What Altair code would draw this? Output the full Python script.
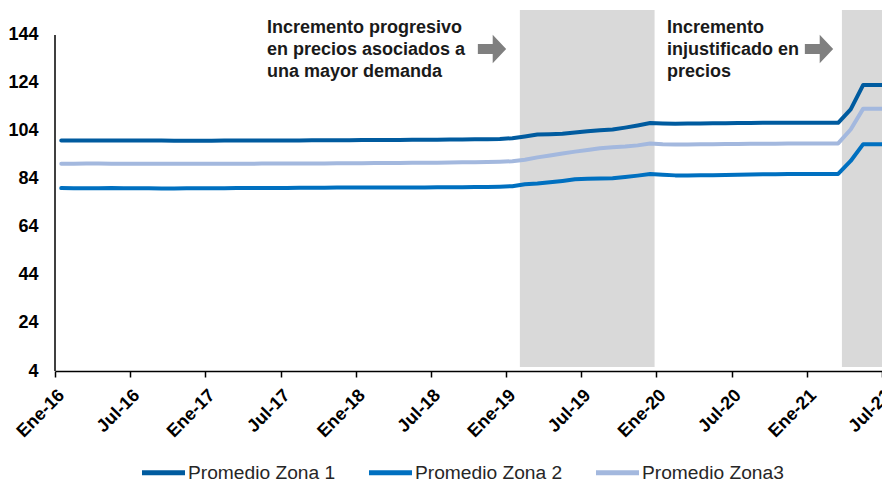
import altair as alt
import pandas as pd

# ---- data ----
SERIES = ["Promedio Zona 1", "Promedio Zona 2", "Promedio Zona3"]
COLORS = ["#005B9F", "#0070C0", "#A3B8DE"]

# monthly index: 0 = Ene-16 ... 66 = Jul-21
MESES = list(range(67))

ZONA1 = [100.0, 100.0, 100.0, 100.0, 100.0, 100.0, 100.0, 100.0, 100.0, 99.9, 99.9, 99.9,
         99.9, 100.0, 100.0, 100.0, 100.0, 100.0, 100.0, 100.0, 100.1, 100.1, 100.1, 100.1,
         100.2, 100.2, 100.2, 100.2, 100.3, 100.3, 100.3, 100.4, 100.4, 100.5, 100.6, 100.7,
         101.0, 101.7, 102.5, 102.6, 102.8, 103.4, 103.9, 104.3, 104.6, 105.4, 106.3, 107.3,
         107.1, 107.0, 107.1, 107.1, 107.2, 107.2, 107.3, 107.3, 107.4, 107.4, 107.4, 107.4,
         107.4, 107.4, 107.4, 113.0, 123.2, 123.2, 123.2]
ZONA2 = [80.2, 80.1, 80.1, 80.1, 80.2, 80.1, 80.1, 80.1, 80.0, 80.0, 80.1, 80.1,
         80.1, 80.1, 80.2, 80.2, 80.2, 80.2, 80.2, 80.3, 80.3, 80.3, 80.4, 80.4,
         80.4, 80.4, 80.5, 80.5, 80.5, 80.5, 80.6, 80.6, 80.6, 80.7, 80.7, 80.8,
         81.0, 81.8, 82.1, 82.6, 83.2, 83.9, 84.1, 84.2, 84.3, 84.8, 85.4, 86.1,
         85.8, 85.5, 85.5, 85.6, 85.6, 85.7, 85.8, 85.9, 86.0, 86.0, 86.1, 86.1,
         86.1, 86.1, 86.1, 91.5, 98.5, 98.5, 98.5]
ZONA3 = [90.3, 90.3, 90.4, 90.4, 90.3, 90.3, 90.3, 90.3, 90.3, 90.3, 90.3, 90.3,
         90.3, 90.3, 90.3, 90.3, 90.4, 90.4, 90.4, 90.5, 90.5, 90.5, 90.6, 90.6,
         90.6, 90.7, 90.7, 90.7, 90.8, 90.8, 90.8, 90.9, 91.0, 91.0, 91.1, 91.2,
         91.4, 92.0, 93.0, 93.8, 94.6, 95.4, 96.1, 96.8, 97.2, 97.5, 98.0, 98.8,
         98.5, 98.4, 98.4, 98.5, 98.5, 98.6, 98.6, 98.7, 98.7, 98.7, 98.8, 98.8,
         98.8, 98.8, 98.8, 104.6, 113.3, 113.3, 113.3]

X_TICKS = list(range(0, 67, 6))
Y_TICKS = [4, 24, 44, 64, 84, 104, 124, 144]

SOMBRA_INICIO = [37.1, 62.8]
SOMBRA_FIN = [47.85, 66.0]

TEXTO1 = ["Incremento progresivo", "en precios asociados a", "una mayor demanda"]
TEXTO2 = ["Incremento", "injustificado en", "precios"]

X_MAX = 66.0
Y_MIN, Y_MAX = 4, 154.4

rows = []
for name, vals in zip(SERIES, [ZONA1, ZONA2, ZONA3]):
    for m, v in zip(MESES, vals):
        rows.append({"serie": name, "pos": m + 0.5, "valor": v})
df = pd.DataFrame(rows)

shade_df = pd.DataFrame({"x": SOMBRA_INICIO, "x2": SOMBRA_FIN})

xscale = alt.Scale(domain=[0, X_MAX], nice=False, zero=False)
yscale = alt.Scale(domain=[Y_MIN, Y_MAX], nice=False, zero=False)

FONT = "Liberation Sans"

xaxis = alt.Axis(values=X_TICKS, labelAngle=-45, labelFont=FONT, labelFontSize=18,
                 labelFontWeight="bold", labelColor="black",
                 labelExpr="(datum.value % 12 == 0 ? 'Ene-' : 'Jul-') + (16 + floor(datum.value / 12))",
                 tickSize=6, tickColor="black", tickWidth=1.5,
                 domainColor="black", domainWidth=1.5, grid=False, labelPadding=9,
                 labelOverlap=False, labelBound=False, labelFlush=False)
yaxis = alt.Axis(values=Y_TICKS, labelFont=FONT, labelFontSize=18, labelFontWeight="bold",
                 labelColor="black", domain=False, ticks=False, grid=False, labelPadding=17,
                 labelOverlap=False)

shade = alt.Chart(shade_df).mark_rect(color="#D9D9D9").encode(
    x=alt.X("x:Q", scale=xscale, axis=xaxis, title=None),
    x2="x2:Q",
    y=alt.datum(5.7, scale=yscale, axis=yaxis, title=None),
    y2=alt.datum(Y_MAX),
)

lines = alt.Chart(df).mark_line(strokeWidth=4, strokeCap="round", strokeJoin="round").encode(
    x=alt.X("pos:Q", scale=xscale, title=None, axis=xaxis),
    y=alt.Y("valor:Q", scale=yscale, title=None, axis=yaxis),
    color=alt.Color("serie:N", scale=alt.Scale(domain=SERIES, range=COLORS),
                    legend=alt.Legend(title=None, orient="none", legendX=84, legendY=438,
                                      direction="horizontal", symbolType="stroke",
                                      symbolSize=1850, symbolStrokeWidth=5,
                                      labelFont=FONT, labelFontSize=19.2, labelColor="#262626",
                                      columnPadding=22, labelOffset=0, padding=0)),
)

yaxis_line = alt.Chart(pd.DataFrame({"a": [0]})).mark_rule(color="black", strokeWidth=1.5).encode(
    x=alt.value(0),
    y=alt.datum(4, scale=yscale),
    y2=alt.datum(144),
)

txt1 = alt.Chart(pd.DataFrame({"a": [0]})).mark_text(
    text=TEXTO1, align="left", baseline="alphabetic", font=FONT, fontSize=18,
    fontWeight="bold", color="#1a1a1a", lineHeight=22
).encode(x=alt.value(212), y=alt.value(23))

txt2 = alt.Chart(pd.DataFrame({"a": [0]})).mark_text(
    text=TEXTO2, align="left", baseline="alphabetic", font=FONT, fontSize=18,
    fontWeight="bold", color="#1a1a1a", lineHeight=22
).encode(x=alt.value(612), y=alt.value(23))

ARROW = "M-1,-0.35 L0.05,-0.35 L0.05,-1 L1,0 L0.05,1 L0.05,0.35 L-1,0.35 Z"
arrow1 = alt.Chart(pd.DataFrame({"a": [0]})).mark_point(
    shape=ARROW, filled=True, color="#7F7F7F", opacity=1, size=800, strokeWidth=0
).encode(x=alt.value(437), y=alt.value(39))
arrow2 = alt.Chart(pd.DataFrame({"a": [0]})).mark_point(
    shape=ARROW, filled=True, color="#7F7F7F", opacity=1, size=800, strokeWidth=0
).encode(x=alt.value(764), y=alt.value(39))

chart = alt.layer(shade, lines, yaxis_line, txt1, txt2, arrow1, arrow2).properties(
    width=827, height=361,
    autosize=alt.AutoSizeParams(type="none"),
    padding={"left": 47, "top": 2, "right": 0, "bottom": 110},
).configure_view(stroke=None)

chart.save("out.html", embed_options={"renderer": "svg", "actions": False})
